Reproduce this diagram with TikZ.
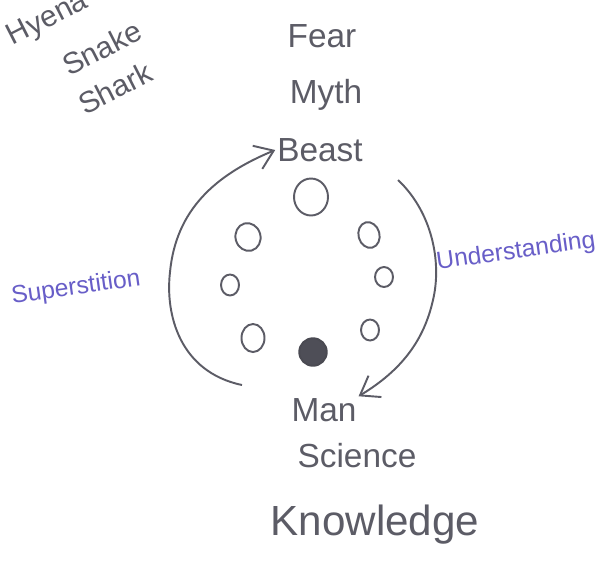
\documentclass[tikz,border=0pt]{standalone}
\usepackage{fontspec}
\setmainfont{Liberation Sans}
\usetikzlibrary{
    arrows.meta,
    positioning,
    shapes.geometric
}
\definecolor{ink}{RGB}{92,92,102}
\definecolor{blueink}{RGB}{104,94,200}
\tikzset{
    % --- Pen word (main labels) ---
    word/.style = {
        text=ink, inner sep=1pt,
        font=\fontsize{19}{22}\selectfont
    },
    % --- Big pen word ---
    big word/.style = {
        word, font=\fontsize{24}{28}\selectfont
    },
    % --- Animal names, slanted ---
    animal/.style = {
        word, rotate=27, inner sep=0pt, font=\fontsize{17}{20}\selectfont
    },
    % --- Blue side label ---
    side/.style = {
        text=blueink, inner sep=1pt, rotate=8,
        font=\fontsize{14}{17}\selectfont
    },
    % --- Hollow dot on the ring ---
    ring dot/.style = {
        ellipse, draw=ink, line width=1.1pt, inner sep=0pt
    },
    % --- Filled dot ---
    full dot/.style = {
        circle, draw=ink!80!black, fill=ink!85!black,
        line width=1.1pt, minimum size=0.55cm, inner sep=0pt
    },
    % --- Curved cycle arrow ---
    cycle arrow/.style = {
        -{Straight Barb[length=3.5mm, width=5mm]},
        draw=ink, line width=1.1pt
    }
}

\begin{document}
\begin{tikzpicture}[x=0.02cm, y=-0.02cm]

\clip (0,0) rectangle (607,565);
\fill[white] (0,0) rectangle (607,565);

% ---------------------------------------------------------
% Animals (top left)
% ---------------------------------------------------------
\node[animal] (Hyena) at (48,20) {Hyena};
\node[animal] (Snake) at (102,48) {Snake};
\node[animal] (Shark) at (115,88) {Shark};

% ---------------------------------------------------------
% Upper word column
% ---------------------------------------------------------
\node[word] (Fear) at (322,36) {Fear};
\node[word] (Myth) at (326,95) {Myth};
\node[word] (Beast) at (320,150) {Beast};

% ---------------------------------------------------------
% Ring of dots
% ---------------------------------------------------------
\node[ring dot, minimum width=0.68cm, minimum height=0.74cm] (D0) at (311,197) {};
\node[ring dot, minimum width=0.5cm, minimum height=0.56cm, rotate=15] (D1) at (248,237) {};
\node[ring dot, minimum width=0.42cm, minimum height=0.52cm, rotate=15] (D2) at (369,235) {};
\node[ring dot, minimum width=0.36cm, minimum height=0.42cm] (D3) at (230,285) {};
\node[ring dot, minimum width=0.36cm, minimum height=0.4cm] (D4) at (384,277) {};
\node[ring dot, minimum width=0.46cm, minimum height=0.56cm] (D5) at (253,338) {};
\node[ring dot, minimum width=0.36cm, minimum height=0.42cm] (D6) at (370,330) {};
\node[full dot] (D7) at (313,352) {};

% ---------------------------------------------------------
% Lower word column
% ---------------------------------------------------------
\node[word] (Man) at (324,410) {Man};
\node[word] (Science) at (357,456) {Science};
\node[big word] (Knowledge) at (375,525) {Knowledge};

% ---------------------------------------------------------
% Cycle arrows
% ---------------------------------------------------------
\coordinate (supStart) at (242,385);
\coordinate (undStart) at (398,180);
\draw[cycle arrow] (supStart)
    .. controls (180,372) and (165,315) .. (170,272)
    .. controls (176,210) and (215,175) .. (Beast.west);
\draw[cycle arrow] (undStart)
    .. controls (432,212) and (442,262) .. (433,300)
    .. controls (424,340) and (402,370) .. (Man.north east);

% ---------------------------------------------------------
% Side labels
% ---------------------------------------------------------
\node[side] (Superstition) at (76,288) {Superstition};
\node[side] (Understanding) at (516,252) {Understanding};

\end{tikzpicture}
\end{document}
